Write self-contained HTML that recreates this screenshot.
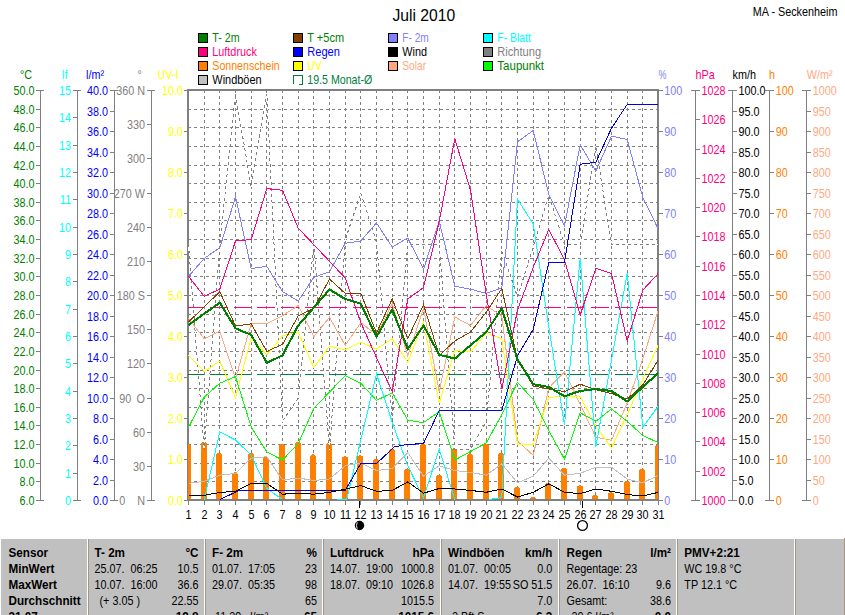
<!DOCTYPE html>
<html><head><meta charset="utf-8"><title>Juli 2010</title>
<style>
html,body{margin:0;padding:0;background:#fff;}
body{width:845px;height:615px;overflow:hidden;position:relative;font-family:"Liberation Sans",sans-serif;}
svg{position:absolute;left:0;top:0;}
text{font-family:"Liberation Sans",sans-serif;font-size:12.5px;white-space:pre;}
.ax{stroke:#808080;stroke-width:1;shape-rendering:crispEdges;fill:none;}
</style></head><body>
<svg width="845" height="615" viewBox="0 0 845 615">

<text transform="translate(392.50,20.6) scale(0.980,1)" fill="#000" style="font-size:16px">Juli 2010</text>
<text transform="translate(752.80,16.0) scale(0.865,1)" fill="#000">MA - Seckenheim</text>
<rect x="198.5" y="33.5" width="9" height="9" fill="#008000" stroke="#000" stroke-width="1" shape-rendering="crispEdges"/>
<text transform="translate(212.30,42.0) scale(0.852,1)" fill="#008000">T- 2m</text>
<rect x="293.5" y="33.5" width="9" height="9" fill="#804000" stroke="#000" stroke-width="1" shape-rendering="crispEdges"/>
<text transform="translate(307.30,42.0) scale(0.880,1)" fill="#008000">T +5cm</text>
<rect x="388.5" y="33.5" width="9" height="9" fill="#8080ff" stroke="#000" stroke-width="1" shape-rendering="crispEdges"/>
<text transform="translate(402.30,42.0) scale(0.809,1)" fill="#8080ff">F- 2m</text>
<rect x="483.5" y="33.5" width="9" height="9" fill="#00ffff" stroke="#000" stroke-width="1" shape-rendering="crispEdges"/>
<text transform="translate(497.30,42.0) scale(0.834,1)" fill="#00ffff">F- Blatt</text>
<rect x="198.5" y="47.5" width="9" height="9" fill="#ff0080" stroke="#000" stroke-width="1" shape-rendering="crispEdges"/>
<text transform="translate(212.30,56.0) scale(0.867,1)" fill="#ff0080">Luftdruck</text>
<rect x="293.5" y="47.5" width="9" height="9" fill="#0000ff" stroke="#000" stroke-width="1" shape-rendering="crispEdges"/>
<text transform="translate(307.30,56.0) scale(0.885,1)" fill="#0000ff">Regen</text>
<rect x="388.5" y="47.5" width="9" height="9" fill="#000000" stroke="#000" stroke-width="1" shape-rendering="crispEdges"/>
<text transform="translate(402.30,56.0) scale(0.867,1)" fill="#000000">Wind</text>
<rect x="483.5" y="47.5" width="9" height="9" fill="#808080" stroke="#000" stroke-width="1" shape-rendering="crispEdges"/>
<text transform="translate(497.30,56.0) scale(0.888,1)" fill="#808080">Richtung</text>
<rect x="198.5" y="61.5" width="9" height="9" fill="#ff8000" stroke="#000" stroke-width="1" shape-rendering="crispEdges"/>
<text transform="translate(212.30,70.0) scale(0.851,1)" fill="#ff8000">Sonnenschein</text>
<rect x="293.5" y="61.5" width="9" height="9" fill="#ffff00" stroke="#000" stroke-width="1" shape-rendering="crispEdges"/>
<text transform="translate(307.30,70.0) scale(0.823,1)" fill="#ffff00">UV</text>
<rect x="388.5" y="61.5" width="9" height="9" fill="#ffa880" stroke="#000" stroke-width="1" shape-rendering="crispEdges"/>
<text transform="translate(402.30,70.0) scale(0.819,1)" fill="#ffa880">Solar</text>
<rect x="483.5" y="61.5" width="9" height="9" fill="#00ff00" stroke="#000" stroke-width="1" shape-rendering="crispEdges"/>
<text transform="translate(497.30,70.0) scale(0.923,1)" fill="#008000">Taupunkt</text>
<rect x="198.5" y="75.5" width="9" height="9" fill="#c0c0c0" stroke="#000" stroke-width="1" shape-rendering="crispEdges"/>
<text transform="translate(212.30,84.0) scale(0.876,1)" fill="#000000">Windböen</text>
<path d="M293.5,84 V75.5 H302.5 V84.5 H299" fill="none" stroke="#008040" stroke-width="1" shape-rendering="crispEdges"/>
<text transform="translate(307.30,84.0) scale(0.851,1)" fill="#008040">19.5 Monat-Ø</text>
<g stroke="#808080" stroke-width="1" stroke-dasharray="3 3" shape-rendering="crispEdges" fill="none">
<line x1="204.5" y1="90" x2="204.5" y2="499"/>
<line x1="219.5" y1="90" x2="219.5" y2="499"/>
<line x1="235.5" y1="90" x2="235.5" y2="499"/>
<line x1="251.5" y1="90" x2="251.5" y2="499"/>
<line x1="266.5" y1="90" x2="266.5" y2="499"/>
<line x1="282.5" y1="90" x2="282.5" y2="499"/>
<line x1="298.5" y1="90" x2="298.5" y2="499"/>
<line x1="313.5" y1="90" x2="313.5" y2="499"/>
<line x1="329.5" y1="90" x2="329.5" y2="499"/>
<line x1="345.5" y1="90" x2="345.5" y2="499"/>
<line x1="360.5" y1="90" x2="360.5" y2="499"/>
<line x1="376.5" y1="90" x2="376.5" y2="499"/>
<line x1="392.5" y1="90" x2="392.5" y2="499"/>
<line x1="407.5" y1="90" x2="407.5" y2="499"/>
<line x1="423.5" y1="90" x2="423.5" y2="499"/>
<line x1="439.5" y1="90" x2="439.5" y2="499"/>
<line x1="454.5" y1="90" x2="454.5" y2="499"/>
<line x1="470.5" y1="90" x2="470.5" y2="499"/>
<line x1="486.5" y1="90" x2="486.5" y2="499"/>
<line x1="501.5" y1="90" x2="501.5" y2="499"/>
<line x1="517.5" y1="90" x2="517.5" y2="499"/>
<line x1="533.5" y1="90" x2="533.5" y2="499"/>
<line x1="548.5" y1="90" x2="548.5" y2="499"/>
<line x1="564.5" y1="90" x2="564.5" y2="499"/>
<line x1="580.5" y1="90" x2="580.5" y2="499"/>
<line x1="595.5" y1="90" x2="595.5" y2="499"/>
<line x1="611.5" y1="90" x2="611.5" y2="499"/>
<line x1="627.5" y1="90" x2="627.5" y2="499"/>
<line x1="642.5" y1="90" x2="642.5" y2="499"/>
<line x1="188" y1="109.5" x2="657" y2="109.5"/>
<line x1="188" y1="127.5" x2="657" y2="127.5"/>
<line x1="188" y1="146.5" x2="657" y2="146.5"/>
<line x1="188" y1="165.5" x2="657" y2="165.5"/>
<line x1="188" y1="183.5" x2="657" y2="183.5"/>
<line x1="188" y1="202.5" x2="657" y2="202.5"/>
<line x1="188" y1="220.5" x2="657" y2="220.5"/>
<line x1="188" y1="239.5" x2="657" y2="239.5"/>
<line x1="188" y1="258.5" x2="657" y2="258.5"/>
<line x1="188" y1="276.5" x2="657" y2="276.5"/>
<line x1="188" y1="295.5" x2="657" y2="295.5"/>
<line x1="188" y1="314.5" x2="657" y2="314.5"/>
<line x1="188" y1="332.5" x2="657" y2="332.5"/>
<line x1="188" y1="351.5" x2="657" y2="351.5"/>
<line x1="188" y1="370.5" x2="657" y2="370.5"/>
<line x1="188" y1="388.5" x2="657" y2="388.5"/>
<line x1="188" y1="407.5" x2="657" y2="407.5"/>
<line x1="188" y1="425.5" x2="657" y2="425.5"/>
<line x1="188" y1="444.5" x2="657" y2="444.5"/>
<line x1="188" y1="463.5" x2="657" y2="463.5"/>
<line x1="188" y1="481.5" x2="657" y2="481.5"/>
</g>
<g fill="#808080" shape-rendering="crispEdges">
<rect x="187" y="89" width="472" height="2"/>
<rect x="187" y="499" width="472" height="2"/>
<rect x="187" y="89" width="2" height="412"/>
<rect x="657" y="89" width="2" height="412"/>
</g>
<defs><clipPath id="cp"><rect x="188" y="91" width="470" height="409.5"/></clipPath></defs>
<g clip-path="url(#cp)" fill="none" stroke-linejoin="miter" shape-rendering="crispEdges">
<path d="M185,499 V447.0 A3,3 0 0 1 191,447.0 V499 Z" fill="#ff8000" stroke="none"/>
<path d="M201,499 V445.0 A3,3 0 0 1 207,445.0 V499 Z" fill="#ff8000" stroke="none"/>
<path d="M216,499 V456.0 A3,3 0 0 1 222,456.0 V499 Z" fill="#ff8000" stroke="none"/>
<path d="M232,499 V475.4 A3,3 0 0 1 238,475.4 V499 Z" fill="#ff8000" stroke="none"/>
<path d="M248,499 V456.0 A3,3 0 0 1 254,456.0 V499 Z" fill="#ff8000" stroke="none"/>
<path d="M263,499 V460.0 A3,3 0 0 1 269,460.0 V499 Z" fill="#ff8000" stroke="none"/>
<path d="M279,499 V447.0 A3,3 0 0 1 285,447.0 V499 Z" fill="#ff8000" stroke="none"/>
<path d="M295,499 V445.0 A3,3 0 0 1 301,445.0 V499 Z" fill="#ff8000" stroke="none"/>
<path d="M310,499 V457.4 A3,3 0 0 1 316,457.4 V499 Z" fill="#ff8000" stroke="none"/>
<path d="M326,499 V445.7 A3,3 0 0 1 332,445.7 V499 Z" fill="#ff8000" stroke="none"/>
<path d="M342,499 V459.3 A3,3 0 0 1 348,459.3 V499 Z" fill="#ff8000" stroke="none"/>
<path d="M357,499 V458.3 A3,3 0 0 1 363,458.3 V499 Z" fill="#ff8000" stroke="none"/>
<path d="M373,499 V462.1 A3,3 0 0 1 379,462.1 V499 Z" fill="#ff8000" stroke="none"/>
<path d="M389,499 V452.1 A3,3 0 0 1 395,452.1 V499 Z" fill="#ff8000" stroke="none"/>
<path d="M404,499 V471.6 A3,3 0 0 1 410,471.6 V499 Z" fill="#ff8000" stroke="none"/>
<path d="M420,499 V446.6 A3,3 0 0 1 426,446.6 V499 Z" fill="#ff8000" stroke="none"/>
<path d="M436,499 V477.7 A3,3 0 0 1 442,477.7 V499 Z" fill="#ff8000" stroke="none"/>
<path d="M451,499 V451.3 A3,3 0 0 1 457,451.3 V499 Z" fill="#ff8000" stroke="none"/>
<path d="M467,499 V456.4 A3,3 0 0 1 473,456.4 V499 Z" fill="#ff8000" stroke="none"/>
<path d="M483,499 V446.6 A3,3 0 0 1 489,446.6 V499 Z" fill="#ff8000" stroke="none"/>
<path d="M498,499 V455.5 A3,3 0 0 1 504,455.5 V499 Z" fill="#ff8000" stroke="none"/>
<path d="M514,499 V490.0 A3,3 0 0 1 520,490.0 V499 Z" fill="#ff8000" stroke="none"/>
<path d="M530,499 V500.0 A3,3 0 0 1 536,500.0 V499 Z" fill="#ff8000" stroke="none"/>
<path d="M545,499 V485.8 A3,3 0 0 1 551,485.8 V499 Z" fill="#ff8000" stroke="none"/>
<path d="M561,499 V470.7 A3,3 0 0 1 567,470.7 V499 Z" fill="#ff8000" stroke="none"/>
<path d="M577,499 V488.3 A3,3 0 0 1 583,488.3 V499 Z" fill="#ff8000" stroke="none"/>
<path d="M592,499 V498.1 A3,3 0 0 1 598,498.1 V499 Z" fill="#ff8000" stroke="none"/>
<path d="M608,499 V495.3 A3,3 0 0 1 614,495.3 V499 Z" fill="#ff8000" stroke="none"/>
<path d="M624,499 V483.9 A3,3 0 0 1 630,483.9 V499 Z" fill="#ff8000" stroke="none"/>
<path d="M639,499 V471.6 A3,3 0 0 1 645,471.6 V499 Z" fill="#ff8000" stroke="none"/>
<path d="M655,499 V448.0 A3,3 0 0 1 661,448.0 V499 Z" fill="#ff8000" stroke="none"/>
<polyline points="188.5,244.5 204.2,450.0 219.8,244.5 235.5,94.0 251.2,187.0 266.8,94.0 282.5,421.0 298.2,398.0 313.8,244.5 329.5,450.0 345.2,240.0 360.8,193.0 376.5,242.0 392.2,420.0 407.8,244.5 423.5,244.5 439.2,244.5 454.8,449.0 470.5,449.0 486.2,422.0 501.8,250.0 517.5,297.0 533.2,247.0 548.8,195.0 564.5,244.5 580.2,244.5 595.8,146.0 611.5,244.5 627.2,244.5 642.8,244.5 658.5,244.5" stroke="#ffffff" stroke-width="1"/>
<polyline points="188.5,244.5 204.2,450.0 219.8,244.5 235.5,94.0 251.2,187.0 266.8,94.0 282.5,421.0 298.2,398.0 313.8,244.5 329.5,450.0 345.2,240.0 360.8,193.0 376.5,242.0 392.2,420.0 407.8,244.5 423.5,244.5 439.2,244.5 454.8,449.0 470.5,449.0 486.2,422.0 501.8,250.0 517.5,297.0 533.2,247.0 548.8,195.0 564.5,244.5 580.2,244.5 595.8,146.0 611.5,244.5 627.2,244.5 642.8,244.5 658.5,244.5" stroke="#808080" stroke-width="1" stroke-dasharray="3 3"/>
<line x1="188" y1="307.5" x2="659" y2="307.5" stroke="#ff0080" stroke-width="1" stroke-dasharray="17.9 5.95" stroke-dashoffset="2.2" shape-rendering="crispEdges"/>
<line x1="188" y1="374.5" x2="659" y2="374.5" stroke="#008040" stroke-width="1" stroke-dasharray="17.9 5.95" stroke-dashoffset="2.2" shape-rendering="crispEdges"/>
<polyline points="188.5,483.4 204.2,481.3 219.8,475.2 235.5,473.3 251.2,458.2 266.8,456.7 282.5,480.0 298.2,478.0 313.8,480.5 329.5,479.0 345.2,465.8 360.8,462.9 376.5,470.5 392.2,468.6 407.8,452.5 423.5,476.2 439.2,465.8 454.8,470.5 470.5,472.4 486.2,475.2 501.8,463.9 517.5,482.8 533.2,476.2 548.8,458.2 564.5,475.2 580.2,473.3 595.8,467.3 611.5,467.3 627.2,479.0 642.8,482.8 658.5,475.2" stroke="#c0c0c0" stroke-width="1"/>
<polyline points="188.5,318.4 204.2,338.7 219.8,331.1 235.5,378.5 251.2,323.6 266.8,323.6 282.5,315.6 298.2,305.6 313.8,336.8 329.5,317.3 345.2,345.3 360.8,322.6 376.5,335.0 392.2,303.7 407.8,355.8 423.5,308.4 439.2,391.7 454.8,317.0 470.5,325.5 486.2,305.6 501.8,316.0 517.5,441.0 533.2,455.3 548.8,388.0 564.5,371.9 580.2,404.2 595.8,437.3 611.5,440.2 627.2,403.0 642.8,359.0 658.5,309.4" stroke="#ffa880" stroke-width="1"/>
<polyline points="188.5,355.4 204.2,371.5 219.8,361.0 235.5,397.6 251.2,337.8 266.8,354.8 282.5,335.9 298.2,332.0 313.8,367.5 329.5,346.3 345.2,349.7 360.8,342.1 376.5,349.1 392.2,338.7 407.8,362.4 423.5,322.0 439.2,403.3 454.8,350.5 470.5,352.0 486.2,333.0 501.8,338.7 517.5,444.5 533.2,444.5 548.8,397.2 564.5,396.6 580.2,396.6 595.8,426.0 611.5,447.8 627.2,414.6 642.8,379.0 658.5,344.4" stroke="#ffff00" stroke-width="1"/>
<polyline points="188.5,427.3 204.2,397.2 219.8,383.2 235.5,376.6 251.2,427.0 266.8,452.0 282.5,460.0 298.2,443.6 313.8,408.4 329.5,392.0 345.2,375.6 360.8,383.2 376.5,400.4 392.2,392.8 407.8,420.3 423.5,422.6 439.2,411.8 454.8,460.0 470.5,451.5 486.2,443.0 501.8,414.6 517.5,382.3 533.2,399.5 548.8,430.7 564.5,459.1 580.2,412.7 595.8,421.3 611.5,408.9 627.2,421.3 642.8,435.5 658.5,442.7" stroke="#00ff00" stroke-width="1"/>
<polyline points="204.2,499.5 219.8,432.0 235.5,440.0 251.2,455.3 266.8,488.5 282.5,499.5" stroke="#00ffff" stroke-width="1"/>
<polyline points="337.3,499.5 346.7,499.5 376.5,373.8 392.2,422.2 407.8,465.8 423.5,498.0 439.2,449.1 454.8,499.5" stroke="#00ffff" stroke-width="1"/>
<polyline points="489.3,499.5 501.8,497.5 517.5,199.2 533.2,223.8 548.8,327.0 564.5,425.0 580.2,257.9 595.8,446.8 611.5,360.0 627.2,273.0 642.8,427.0 658.5,406.0" stroke="#00ffff" stroke-width="1"/>
<polyline points="188.5,276.4 204.2,258.4 219.8,247.7 235.5,196.9 251.2,268.5 266.8,266.4 282.5,291.6 298.2,301.0 313.8,277.4 329.5,271.7 345.2,243.3 360.8,240.9 376.5,222.9 392.2,247.1 407.8,238.0 423.5,269.3 439.2,221.0 454.8,286.3 470.5,289.2 486.2,293.3 501.8,288.2 517.5,141.8 533.2,130.5 548.8,194.5 564.5,225.7 580.2,144.7 595.8,171.2 611.5,136.1 627.2,139.5 642.8,197.3 658.5,229.5" stroke="#8080ff" stroke-width="1"/>
<polyline points="188.5,276.4 204.2,296.3 219.8,289.1 235.5,241.0 251.2,239.5 266.8,188.6 282.5,190.3 298.2,228.1 313.8,244.6 329.5,261.3 345.2,278.0 360.8,322.6 376.5,357.7 392.2,391.7 407.8,298.9 423.5,287.6 439.2,221.5 454.8,138.7 470.5,190.0 486.2,294.0 501.8,389.0 517.5,310.0 533.2,267.4 548.8,229.5 564.5,259.8 580.2,315.0 595.8,268.3 611.5,273.6 627.2,341.0 642.8,290.2 658.5,273.1" stroke="#ff0080" stroke-width="1"/>
<polyline points="188.5,322.0 204.2,306.9 219.8,291.7 235.5,326.0 251.2,323.9 266.8,351.4 282.5,344.4 298.2,316.0 313.8,308.4 329.5,279.0 345.2,293.3 360.8,293.3 376.5,333.0 392.2,298.9 407.8,338.7 423.5,304.6 439.2,355.4 454.8,341.0 470.5,332.1 486.2,312.2 501.8,288.5 517.5,359.5 533.2,386.0 548.8,388.9 564.5,391.7 580.2,384.2 595.8,389.8 611.5,393.6 627.2,399.1 642.8,385.0 658.5,359.5" stroke="#804000" stroke-width="1"/>
<polyline points="219.8,499.5 239.4,490.4 345.2,490.4 360.8,463.5 376.5,463.5 394.5,446.8 407.8,444.4 423.5,443.6 439.2,410.5 501.8,410.5 517.5,355.8 533.2,329.6 548.8,262.3 564.5,262.3 580.2,164.2 595.8,162.3 611.5,128.2 627.2,104.5 658.5,104.5" stroke="#0000e0" stroke-width="1"/>
<polyline points="188.5,495.3 204.2,495.3 219.8,492.5 235.5,491.3 251.2,483.4 266.8,483.4 282.5,494.2 298.2,493.2 313.8,494.2 329.5,492.3 345.2,489.2 360.8,485.6 376.5,491.3 392.2,490.4 407.8,481.9 423.5,493.2 439.2,488.5 454.8,489.0 470.5,490.4 486.2,492.3 501.8,489.0 517.5,497.0 533.2,492.3 548.8,483.8 564.5,492.3 580.2,493.6 595.8,489.0 611.5,491.3 627.2,494.5 642.8,496.0 658.5,492.3" stroke="#000000" stroke-width="1"/>
<polyline points="188.5,325.1 204.2,313.7 219.8,302.7 235.5,328.3 251.2,334.9 266.8,362.8 282.5,355.4 298.2,325.5 313.8,307.5 329.5,289.5 345.2,298.9 360.8,303.7 376.5,336.8 392.2,309.4 407.8,349.1 423.5,325.5 439.2,354.8 454.8,358.6 470.5,345.3 486.2,332.1 501.8,308.4 517.5,359.5 533.2,384.2 548.8,387.0 564.5,396.3 580.2,391.0 595.8,389.0 611.5,391.0 627.2,401.4 642.8,387.0 658.5,372.8" stroke="#008000" stroke-width="2.1" stroke-linejoin="round"/>
</g>
<g class="ax">
<line x1="40.5" y1="90" x2="40.5" y2="501"/>
<line x1="36.0" y1="90.5" x2="44.0" y2="90.5"/>
<line x1="36.0" y1="109.5" x2="41.0" y2="109.5"/>
<line x1="36.0" y1="127.5" x2="41.0" y2="127.5"/>
<line x1="36.0" y1="146.5" x2="41.0" y2="146.5"/>
<line x1="36.0" y1="165.5" x2="41.0" y2="165.5"/>
<line x1="36.0" y1="183.5" x2="41.0" y2="183.5"/>
<line x1="36.0" y1="202.5" x2="41.0" y2="202.5"/>
<line x1="36.0" y1="220.5" x2="41.0" y2="220.5"/>
<line x1="36.0" y1="239.5" x2="41.0" y2="239.5"/>
<line x1="36.0" y1="258.5" x2="41.0" y2="258.5"/>
<line x1="36.0" y1="276.5" x2="41.0" y2="276.5"/>
<line x1="36.0" y1="295.5" x2="41.0" y2="295.5"/>
<line x1="36.0" y1="314.5" x2="41.0" y2="314.5"/>
<line x1="36.0" y1="332.5" x2="41.0" y2="332.5"/>
<line x1="36.0" y1="351.5" x2="41.0" y2="351.5"/>
<line x1="36.0" y1="370.5" x2="41.0" y2="370.5"/>
<line x1="36.0" y1="388.5" x2="41.0" y2="388.5"/>
<line x1="36.0" y1="407.5" x2="41.0" y2="407.5"/>
<line x1="36.0" y1="425.5" x2="41.0" y2="425.5"/>
<line x1="36.0" y1="444.5" x2="41.0" y2="444.5"/>
<line x1="36.0" y1="463.5" x2="41.0" y2="463.5"/>
<line x1="36.0" y1="481.5" x2="41.0" y2="481.5"/>
<line x1="36.0" y1="500.5" x2="44.0" y2="500.5"/>
</g>
<text transform="translate(34.40,95.0) scale(0.865,1)" fill="#008000" text-anchor="end">50.0</text>
<text transform="translate(34.40,114.0) scale(0.865,1)" fill="#008000" text-anchor="end">48.0</text>
<text transform="translate(34.40,132.0) scale(0.865,1)" fill="#008000" text-anchor="end">46.0</text>
<text transform="translate(34.40,151.0) scale(0.865,1)" fill="#008000" text-anchor="end">44.0</text>
<text transform="translate(34.40,170.0) scale(0.865,1)" fill="#008000" text-anchor="end">42.0</text>
<text transform="translate(34.40,188.0) scale(0.865,1)" fill="#008000" text-anchor="end">40.0</text>
<text transform="translate(34.40,207.0) scale(0.865,1)" fill="#008000" text-anchor="end">38.0</text>
<text transform="translate(34.40,225.0) scale(0.865,1)" fill="#008000" text-anchor="end">36.0</text>
<text transform="translate(34.40,244.0) scale(0.865,1)" fill="#008000" text-anchor="end">34.0</text>
<text transform="translate(34.40,263.0) scale(0.865,1)" fill="#008000" text-anchor="end">32.0</text>
<text transform="translate(34.40,281.0) scale(0.865,1)" fill="#008000" text-anchor="end">30.0</text>
<text transform="translate(34.40,300.0) scale(0.865,1)" fill="#008000" text-anchor="end">28.0</text>
<text transform="translate(34.40,319.0) scale(0.865,1)" fill="#008000" text-anchor="end">26.0</text>
<text transform="translate(34.40,337.0) scale(0.865,1)" fill="#008000" text-anchor="end">24.0</text>
<text transform="translate(34.40,356.0) scale(0.865,1)" fill="#008000" text-anchor="end">22.0</text>
<text transform="translate(34.40,375.0) scale(0.865,1)" fill="#008000" text-anchor="end">20.0</text>
<text transform="translate(34.40,393.0) scale(0.865,1)" fill="#008000" text-anchor="end">18.0</text>
<text transform="translate(34.40,412.0) scale(0.865,1)" fill="#008000" text-anchor="end">16.0</text>
<text transform="translate(34.40,430.0) scale(0.865,1)" fill="#008000" text-anchor="end">14.0</text>
<text transform="translate(34.40,449.0) scale(0.865,1)" fill="#008000" text-anchor="end">12.0</text>
<text transform="translate(34.40,468.0) scale(0.865,1)" fill="#008000" text-anchor="end">10.0</text>
<text transform="translate(34.40,486.0) scale(0.865,1)" fill="#008000" text-anchor="end">8.0</text>
<text transform="translate(34.40,505.0) scale(0.865,1)" fill="#008000" text-anchor="end">6.0</text>
<g class="ax">
<line x1="77.5" y1="90" x2="77.5" y2="501"/>
<line x1="73.0" y1="90.5" x2="81.0" y2="90.5"/>
<line x1="73.0" y1="117.5" x2="78.0" y2="117.5"/>
<line x1="73.0" y1="145.5" x2="78.0" y2="145.5"/>
<line x1="73.0" y1="172.5" x2="78.0" y2="172.5"/>
<line x1="73.0" y1="199.5" x2="78.0" y2="199.5"/>
<line x1="73.0" y1="227.5" x2="78.0" y2="227.5"/>
<line x1="73.0" y1="254.5" x2="78.0" y2="254.5"/>
<line x1="73.0" y1="281.5" x2="78.0" y2="281.5"/>
<line x1="73.0" y1="309.5" x2="78.0" y2="309.5"/>
<line x1="73.0" y1="336.5" x2="78.0" y2="336.5"/>
<line x1="73.0" y1="363.5" x2="78.0" y2="363.5"/>
<line x1="73.0" y1="391.5" x2="78.0" y2="391.5"/>
<line x1="73.0" y1="418.5" x2="78.0" y2="418.5"/>
<line x1="73.0" y1="445.5" x2="78.0" y2="445.5"/>
<line x1="73.0" y1="473.5" x2="78.0" y2="473.5"/>
<line x1="73.0" y1="500.5" x2="81.0" y2="500.5"/>
</g>
<text transform="translate(71.00,95.0) scale(0.865,1)" fill="#00ffff" text-anchor="end">15</text>
<text transform="translate(71.00,122.0) scale(0.865,1)" fill="#00ffff" text-anchor="end">14</text>
<text transform="translate(71.00,150.0) scale(0.865,1)" fill="#00ffff" text-anchor="end">13</text>
<text transform="translate(71.00,177.0) scale(0.865,1)" fill="#00ffff" text-anchor="end">12</text>
<text transform="translate(71.00,204.0) scale(0.865,1)" fill="#00ffff" text-anchor="end">11</text>
<text transform="translate(71.00,232.0) scale(0.865,1)" fill="#00ffff" text-anchor="end">10</text>
<text transform="translate(71.00,259.0) scale(0.865,1)" fill="#00ffff" text-anchor="end">9</text>
<text transform="translate(71.00,286.0) scale(0.865,1)" fill="#00ffff" text-anchor="end">8</text>
<text transform="translate(71.00,314.0) scale(0.865,1)" fill="#00ffff" text-anchor="end">7</text>
<text transform="translate(71.00,341.0) scale(0.865,1)" fill="#00ffff" text-anchor="end">6</text>
<text transform="translate(71.00,368.0) scale(0.865,1)" fill="#00ffff" text-anchor="end">5</text>
<text transform="translate(71.00,396.0) scale(0.865,1)" fill="#00ffff" text-anchor="end">4</text>
<text transform="translate(71.00,423.0) scale(0.865,1)" fill="#00ffff" text-anchor="end">3</text>
<text transform="translate(71.00,450.0) scale(0.865,1)" fill="#00ffff" text-anchor="end">2</text>
<text transform="translate(71.00,478.0) scale(0.865,1)" fill="#00ffff" text-anchor="end">1</text>
<text transform="translate(71.00,505.0) scale(0.865,1)" fill="#00ffff" text-anchor="end">0</text>
<g class="ax">
<line x1="114.5" y1="90" x2="114.5" y2="501"/>
<line x1="110.0" y1="90.5" x2="118.0" y2="90.5"/>
<line x1="110.0" y1="111.5" x2="115.0" y2="111.5"/>
<line x1="110.0" y1="131.5" x2="115.0" y2="131.5"/>
<line x1="110.0" y1="152.5" x2="115.0" y2="152.5"/>
<line x1="110.0" y1="172.5" x2="115.0" y2="172.5"/>
<line x1="110.0" y1="193.5" x2="115.0" y2="193.5"/>
<line x1="110.0" y1="213.5" x2="115.0" y2="213.5"/>
<line x1="110.0" y1="234.5" x2="115.0" y2="234.5"/>
<line x1="110.0" y1="254.5" x2="115.0" y2="254.5"/>
<line x1="110.0" y1="275.5" x2="115.0" y2="275.5"/>
<line x1="110.0" y1="295.5" x2="115.0" y2="295.5"/>
<line x1="110.0" y1="316.5" x2="115.0" y2="316.5"/>
<line x1="110.0" y1="336.5" x2="115.0" y2="336.5"/>
<line x1="110.0" y1="357.5" x2="115.0" y2="357.5"/>
<line x1="110.0" y1="377.5" x2="115.0" y2="377.5"/>
<line x1="110.0" y1="398.5" x2="115.0" y2="398.5"/>
<line x1="110.0" y1="418.5" x2="115.0" y2="418.5"/>
<line x1="110.0" y1="439.5" x2="115.0" y2="439.5"/>
<line x1="110.0" y1="459.5" x2="115.0" y2="459.5"/>
<line x1="110.0" y1="480.5" x2="115.0" y2="480.5"/>
<line x1="110.0" y1="500.5" x2="118.0" y2="500.5"/>
</g>
<text transform="translate(108.00,95.0) scale(0.865,1)" fill="#0000ff" text-anchor="end">40.0</text>
<text transform="translate(108.00,116.0) scale(0.865,1)" fill="#0000ff" text-anchor="end">38.0</text>
<text transform="translate(108.00,136.0) scale(0.865,1)" fill="#0000ff" text-anchor="end">36.0</text>
<text transform="translate(108.00,157.0) scale(0.865,1)" fill="#0000ff" text-anchor="end">34.0</text>
<text transform="translate(108.00,177.0) scale(0.865,1)" fill="#0000ff" text-anchor="end">32.0</text>
<text transform="translate(108.00,198.0) scale(0.865,1)" fill="#0000ff" text-anchor="end">30.0</text>
<text transform="translate(108.00,218.0) scale(0.865,1)" fill="#0000ff" text-anchor="end">28.0</text>
<text transform="translate(108.00,239.0) scale(0.865,1)" fill="#0000ff" text-anchor="end">26.0</text>
<text transform="translate(108.00,259.0) scale(0.865,1)" fill="#0000ff" text-anchor="end">24.0</text>
<text transform="translate(108.00,280.0) scale(0.865,1)" fill="#0000ff" text-anchor="end">22.0</text>
<text transform="translate(108.00,300.0) scale(0.865,1)" fill="#0000ff" text-anchor="end">20.0</text>
<text transform="translate(108.00,321.0) scale(0.865,1)" fill="#0000ff" text-anchor="end">18.0</text>
<text transform="translate(108.00,341.0) scale(0.865,1)" fill="#0000ff" text-anchor="end">16.0</text>
<text transform="translate(108.00,362.0) scale(0.865,1)" fill="#0000ff" text-anchor="end">14.0</text>
<text transform="translate(108.00,382.0) scale(0.865,1)" fill="#0000ff" text-anchor="end">12.0</text>
<text transform="translate(108.00,403.0) scale(0.865,1)" fill="#0000ff" text-anchor="end">10.0</text>
<text transform="translate(108.00,423.0) scale(0.865,1)" fill="#0000ff" text-anchor="end">8.0</text>
<text transform="translate(108.00,444.0) scale(0.865,1)" fill="#0000ff" text-anchor="end">6.0</text>
<text transform="translate(108.00,464.0) scale(0.865,1)" fill="#0000ff" text-anchor="end">4.0</text>
<text transform="translate(108.00,485.0) scale(0.865,1)" fill="#0000ff" text-anchor="end">2.0</text>
<text transform="translate(108.00,505.0) scale(0.865,1)" fill="#0000ff" text-anchor="end">0.0</text>
<text transform="translate(119.30,403.0) scale(0.865,1)" fill="#808080">90</text>
<text transform="translate(119.30,505.0) scale(0.865,1)" fill="#808080">0</text>
<g class="ax">
<line x1="151.5" y1="90" x2="151.5" y2="501"/>
<line x1="147.0" y1="90.5" x2="155.0" y2="90.5"/>
<line x1="147.0" y1="124.5" x2="152.0" y2="124.5"/>
<line x1="147.0" y1="158.5" x2="152.0" y2="158.5"/>
<line x1="147.0" y1="193.5" x2="152.0" y2="193.5"/>
<line x1="147.0" y1="227.5" x2="152.0" y2="227.5"/>
<line x1="147.0" y1="261.5" x2="152.0" y2="261.5"/>
<line x1="147.0" y1="295.5" x2="152.0" y2="295.5"/>
<line x1="147.0" y1="329.5" x2="152.0" y2="329.5"/>
<line x1="147.0" y1="363.5" x2="152.0" y2="363.5"/>
<line x1="147.0" y1="398.5" x2="152.0" y2="398.5"/>
<line x1="147.0" y1="432.5" x2="152.0" y2="432.5"/>
<line x1="147.0" y1="466.5" x2="152.0" y2="466.5"/>
<line x1="147.0" y1="500.5" x2="155.0" y2="500.5"/>
</g>
<text transform="translate(145.00,95.0) scale(0.865,1)" fill="#808080" text-anchor="end">360 N</text>
<text transform="translate(145.00,129.0) scale(0.865,1)" fill="#808080" text-anchor="end">330</text>
<text transform="translate(145.00,163.0) scale(0.865,1)" fill="#808080" text-anchor="end">300</text>
<text transform="translate(145.00,198.0) scale(0.865,1)" fill="#808080" text-anchor="end">270 W</text>
<text transform="translate(145.00,232.0) scale(0.865,1)" fill="#808080" text-anchor="end">240</text>
<text transform="translate(145.00,266.0) scale(0.865,1)" fill="#808080" text-anchor="end">210</text>
<text transform="translate(145.00,300.0) scale(0.865,1)" fill="#808080" text-anchor="end">180 S</text>
<text transform="translate(145.00,334.0) scale(0.865,1)" fill="#808080" text-anchor="end">150</text>
<text transform="translate(145.00,368.0) scale(0.865,1)" fill="#808080" text-anchor="end">120</text>
<text transform="translate(145.00,403.0) scale(0.865,1)" fill="#808080" text-anchor="end">O</text>
<text transform="translate(145.00,437.0) scale(0.865,1)" fill="#808080" text-anchor="end">60</text>
<text transform="translate(145.00,471.0) scale(0.865,1)" fill="#808080" text-anchor="end">30</text>
<text transform="translate(145.00,505.0) scale(0.865,1)" fill="#808080" text-anchor="end">N</text>
<g class="ax">
<line x1="184" y1="90.5" x2="187" y2="90.5"/>
<line x1="659" y1="90.5" x2="663" y2="90.5"/>
<line x1="184" y1="131.5" x2="187" y2="131.5"/>
<line x1="659" y1="131.5" x2="663" y2="131.5"/>
<line x1="184" y1="172.5" x2="187" y2="172.5"/>
<line x1="659" y1="172.5" x2="663" y2="172.5"/>
<line x1="184" y1="213.5" x2="187" y2="213.5"/>
<line x1="659" y1="213.5" x2="663" y2="213.5"/>
<line x1="184" y1="254.5" x2="187" y2="254.5"/>
<line x1="659" y1="254.5" x2="663" y2="254.5"/>
<line x1="184" y1="295.5" x2="187" y2="295.5"/>
<line x1="659" y1="295.5" x2="663" y2="295.5"/>
<line x1="184" y1="336.5" x2="187" y2="336.5"/>
<line x1="659" y1="336.5" x2="663" y2="336.5"/>
<line x1="184" y1="377.5" x2="187" y2="377.5"/>
<line x1="659" y1="377.5" x2="663" y2="377.5"/>
<line x1="184" y1="418.5" x2="187" y2="418.5"/>
<line x1="659" y1="418.5" x2="663" y2="418.5"/>
<line x1="184" y1="459.5" x2="187" y2="459.5"/>
<line x1="659" y1="459.5" x2="663" y2="459.5"/>
<line x1="184" y1="500.5" x2="187" y2="500.5"/>
<line x1="659" y1="500.5" x2="663" y2="500.5"/>
</g>
<text transform="translate(183.00,95.0) scale(0.865,1)" fill="#ffff00" text-anchor="end">10.0</text>
<text transform="translate(664.30,95.0) scale(0.865,1)" fill="#8080ff">100</text>
<text transform="translate(183.00,136.0) scale(0.865,1)" fill="#ffff00" text-anchor="end">9.0</text>
<text transform="translate(664.30,136.0) scale(0.865,1)" fill="#8080ff">90</text>
<text transform="translate(183.00,177.0) scale(0.865,1)" fill="#ffff00" text-anchor="end">8.0</text>
<text transform="translate(664.30,177.0) scale(0.865,1)" fill="#8080ff">80</text>
<text transform="translate(183.00,218.0) scale(0.865,1)" fill="#ffff00" text-anchor="end">7.0</text>
<text transform="translate(664.30,218.0) scale(0.865,1)" fill="#8080ff">70</text>
<text transform="translate(183.00,259.0) scale(0.865,1)" fill="#ffff00" text-anchor="end">6.0</text>
<text transform="translate(664.30,259.0) scale(0.865,1)" fill="#8080ff">60</text>
<text transform="translate(183.00,300.0) scale(0.865,1)" fill="#ffff00" text-anchor="end">5.0</text>
<text transform="translate(664.30,300.0) scale(0.865,1)" fill="#8080ff">50</text>
<text transform="translate(183.00,341.0) scale(0.865,1)" fill="#ffff00" text-anchor="end">4.0</text>
<text transform="translate(664.30,341.0) scale(0.865,1)" fill="#8080ff">40</text>
<text transform="translate(183.00,382.0) scale(0.865,1)" fill="#ffff00" text-anchor="end">3.0</text>
<text transform="translate(664.30,382.0) scale(0.865,1)" fill="#8080ff">30</text>
<text transform="translate(183.00,423.0) scale(0.865,1)" fill="#ffff00" text-anchor="end">2.0</text>
<text transform="translate(664.30,423.0) scale(0.865,1)" fill="#8080ff">20</text>
<text transform="translate(183.00,464.0) scale(0.865,1)" fill="#ffff00" text-anchor="end">1.0</text>
<text transform="translate(664.30,464.0) scale(0.865,1)" fill="#8080ff">10</text>
<text transform="translate(183.00,505.0) scale(0.865,1)" fill="#ffff00" text-anchor="end">0.0</text>
<text transform="translate(664.30,505.0) scale(0.865,1)" fill="#8080ff">0</text>
<g class="ax">
<line x1="695.5" y1="90" x2="695.5" y2="501"/>
<line x1="691.0" y1="90.5" x2="700.0" y2="90.5"/>
<line x1="695.0" y1="119.5" x2="700.0" y2="119.5"/>
<line x1="695.0" y1="149.5" x2="700.0" y2="149.5"/>
<line x1="695.0" y1="178.5" x2="700.0" y2="178.5"/>
<line x1="695.0" y1="207.5" x2="700.0" y2="207.5"/>
<line x1="695.0" y1="236.5" x2="700.0" y2="236.5"/>
<line x1="695.0" y1="266.5" x2="700.0" y2="266.5"/>
<line x1="695.0" y1="295.5" x2="700.0" y2="295.5"/>
<line x1="695.0" y1="324.5" x2="700.0" y2="324.5"/>
<line x1="695.0" y1="354.5" x2="700.0" y2="354.5"/>
<line x1="695.0" y1="383.5" x2="700.0" y2="383.5"/>
<line x1="695.0" y1="412.5" x2="700.0" y2="412.5"/>
<line x1="695.0" y1="441.5" x2="700.0" y2="441.5"/>
<line x1="695.0" y1="471.5" x2="700.0" y2="471.5"/>
<line x1="691.0" y1="500.5" x2="700.0" y2="500.5"/>
</g>
<text transform="translate(701.60,95.0) scale(0.865,1)" fill="#ff0080">1028</text>
<text transform="translate(701.60,124.0) scale(0.865,1)" fill="#ff0080">1026</text>
<text transform="translate(701.60,154.0) scale(0.865,1)" fill="#ff0080">1024</text>
<text transform="translate(701.60,183.0) scale(0.865,1)" fill="#ff0080">1022</text>
<text transform="translate(701.60,212.0) scale(0.865,1)" fill="#ff0080">1020</text>
<text transform="translate(701.60,241.0) scale(0.865,1)" fill="#ff0080">1018</text>
<text transform="translate(701.60,271.0) scale(0.865,1)" fill="#ff0080">1016</text>
<text transform="translate(701.60,300.0) scale(0.865,1)" fill="#ff0080">1014</text>
<text transform="translate(701.60,329.0) scale(0.865,1)" fill="#ff0080">1012</text>
<text transform="translate(701.60,359.0) scale(0.865,1)" fill="#ff0080">1010</text>
<text transform="translate(701.60,388.0) scale(0.865,1)" fill="#ff0080">1008</text>
<text transform="translate(701.60,417.0) scale(0.865,1)" fill="#ff0080">1006</text>
<text transform="translate(701.60,446.0) scale(0.865,1)" fill="#ff0080">1004</text>
<text transform="translate(701.60,476.0) scale(0.865,1)" fill="#ff0080">1002</text>
<text transform="translate(701.60,505.0) scale(0.865,1)" fill="#ff0080">1000</text>
<g class="ax">
<line x1="732.5" y1="90" x2="732.5" y2="501"/>
<line x1="728.0" y1="90.5" x2="737.0" y2="90.5"/>
<line x1="732.0" y1="111.5" x2="737.0" y2="111.5"/>
<line x1="732.0" y1="131.5" x2="737.0" y2="131.5"/>
<line x1="732.0" y1="152.5" x2="737.0" y2="152.5"/>
<line x1="732.0" y1="172.5" x2="737.0" y2="172.5"/>
<line x1="732.0" y1="193.5" x2="737.0" y2="193.5"/>
<line x1="732.0" y1="213.5" x2="737.0" y2="213.5"/>
<line x1="732.0" y1="234.5" x2="737.0" y2="234.5"/>
<line x1="732.0" y1="254.5" x2="737.0" y2="254.5"/>
<line x1="732.0" y1="275.5" x2="737.0" y2="275.5"/>
<line x1="732.0" y1="295.5" x2="737.0" y2="295.5"/>
<line x1="732.0" y1="316.5" x2="737.0" y2="316.5"/>
<line x1="732.0" y1="336.5" x2="737.0" y2="336.5"/>
<line x1="732.0" y1="357.5" x2="737.0" y2="357.5"/>
<line x1="732.0" y1="377.5" x2="737.0" y2="377.5"/>
<line x1="732.0" y1="398.5" x2="737.0" y2="398.5"/>
<line x1="732.0" y1="418.5" x2="737.0" y2="418.5"/>
<line x1="732.0" y1="439.5" x2="737.0" y2="439.5"/>
<line x1="732.0" y1="459.5" x2="737.0" y2="459.5"/>
<line x1="732.0" y1="480.5" x2="737.0" y2="480.5"/>
<line x1="728.0" y1="500.5" x2="737.0" y2="500.5"/>
</g>
<text transform="translate(738.40,95.0) scale(0.865,1)" fill="#000000">100.0</text>
<text transform="translate(738.40,116.0) scale(0.865,1)" fill="#000000">95.0</text>
<text transform="translate(738.40,136.0) scale(0.865,1)" fill="#000000">90.0</text>
<text transform="translate(738.40,157.0) scale(0.865,1)" fill="#000000">85.0</text>
<text transform="translate(738.40,177.0) scale(0.865,1)" fill="#000000">80.0</text>
<text transform="translate(738.40,198.0) scale(0.865,1)" fill="#000000">75.0</text>
<text transform="translate(738.40,218.0) scale(0.865,1)" fill="#000000">70.0</text>
<text transform="translate(738.40,239.0) scale(0.865,1)" fill="#000000">65.0</text>
<text transform="translate(738.40,259.0) scale(0.865,1)" fill="#000000">60.0</text>
<text transform="translate(738.40,280.0) scale(0.865,1)" fill="#000000">55.0</text>
<text transform="translate(738.40,300.0) scale(0.865,1)" fill="#000000">50.0</text>
<text transform="translate(738.40,321.0) scale(0.865,1)" fill="#000000">45.0</text>
<text transform="translate(738.40,341.0) scale(0.865,1)" fill="#000000">40.0</text>
<text transform="translate(738.40,362.0) scale(0.865,1)" fill="#000000">35.0</text>
<text transform="translate(738.40,382.0) scale(0.865,1)" fill="#000000">30.0</text>
<text transform="translate(738.40,403.0) scale(0.865,1)" fill="#000000">25.0</text>
<text transform="translate(738.40,423.0) scale(0.865,1)" fill="#000000">20.0</text>
<text transform="translate(738.40,444.0) scale(0.865,1)" fill="#000000">15.0</text>
<text transform="translate(738.40,464.0) scale(0.865,1)" fill="#000000">10.0</text>
<text transform="translate(738.40,485.0) scale(0.865,1)" fill="#000000">5.0</text>
<text transform="translate(738.40,505.0) scale(0.865,1)" fill="#000000">0.0</text>
<g class="ax">
<line x1="769.5" y1="90" x2="769.5" y2="501"/>
<line x1="765.0" y1="90.5" x2="774.0" y2="90.5"/>
<line x1="769.0" y1="131.5" x2="774.0" y2="131.5"/>
<line x1="769.0" y1="172.5" x2="774.0" y2="172.5"/>
<line x1="769.0" y1="213.5" x2="774.0" y2="213.5"/>
<line x1="769.0" y1="254.5" x2="774.0" y2="254.5"/>
<line x1="769.0" y1="295.5" x2="774.0" y2="295.5"/>
<line x1="769.0" y1="336.5" x2="774.0" y2="336.5"/>
<line x1="769.0" y1="377.5" x2="774.0" y2="377.5"/>
<line x1="769.0" y1="418.5" x2="774.0" y2="418.5"/>
<line x1="769.0" y1="459.5" x2="774.0" y2="459.5"/>
<line x1="765.0" y1="500.5" x2="774.0" y2="500.5"/>
</g>
<text transform="translate(775.80,95.0) scale(0.865,1)" fill="#ff8000">100</text>
<text transform="translate(775.80,136.0) scale(0.865,1)" fill="#ff8000">90</text>
<text transform="translate(775.80,177.0) scale(0.865,1)" fill="#ff8000">80</text>
<text transform="translate(775.80,218.0) scale(0.865,1)" fill="#ff8000">70</text>
<text transform="translate(775.80,259.0) scale(0.865,1)" fill="#ff8000">60</text>
<text transform="translate(775.80,300.0) scale(0.865,1)" fill="#ff8000">50</text>
<text transform="translate(775.80,341.0) scale(0.865,1)" fill="#ff8000">40</text>
<text transform="translate(775.80,382.0) scale(0.865,1)" fill="#ff8000">30</text>
<text transform="translate(775.80,423.0) scale(0.865,1)" fill="#ff8000">20</text>
<text transform="translate(775.80,464.0) scale(0.865,1)" fill="#ff8000">10</text>
<text transform="translate(775.80,505.0) scale(0.865,1)" fill="#ff8000">0</text>
<g class="ax">
<line x1="806.5" y1="90" x2="806.5" y2="501"/>
<line x1="802.0" y1="90.5" x2="811.0" y2="90.5"/>
<line x1="806.0" y1="111.5" x2="811.0" y2="111.5"/>
<line x1="806.0" y1="131.5" x2="811.0" y2="131.5"/>
<line x1="806.0" y1="152.5" x2="811.0" y2="152.5"/>
<line x1="806.0" y1="172.5" x2="811.0" y2="172.5"/>
<line x1="806.0" y1="193.5" x2="811.0" y2="193.5"/>
<line x1="806.0" y1="213.5" x2="811.0" y2="213.5"/>
<line x1="806.0" y1="234.5" x2="811.0" y2="234.5"/>
<line x1="806.0" y1="254.5" x2="811.0" y2="254.5"/>
<line x1="806.0" y1="275.5" x2="811.0" y2="275.5"/>
<line x1="806.0" y1="295.5" x2="811.0" y2="295.5"/>
<line x1="806.0" y1="316.5" x2="811.0" y2="316.5"/>
<line x1="806.0" y1="336.5" x2="811.0" y2="336.5"/>
<line x1="806.0" y1="357.5" x2="811.0" y2="357.5"/>
<line x1="806.0" y1="377.5" x2="811.0" y2="377.5"/>
<line x1="806.0" y1="398.5" x2="811.0" y2="398.5"/>
<line x1="806.0" y1="418.5" x2="811.0" y2="418.5"/>
<line x1="806.0" y1="439.5" x2="811.0" y2="439.5"/>
<line x1="806.0" y1="459.5" x2="811.0" y2="459.5"/>
<line x1="806.0" y1="480.5" x2="811.0" y2="480.5"/>
<line x1="802.0" y1="500.5" x2="811.0" y2="500.5"/>
</g>
<text transform="translate(812.80,95.0) scale(0.865,1)" fill="#ffa880">1000</text>
<text transform="translate(812.80,116.0) scale(0.865,1)" fill="#ffa880">950</text>
<text transform="translate(812.80,136.0) scale(0.865,1)" fill="#ffa880">900</text>
<text transform="translate(812.80,157.0) scale(0.865,1)" fill="#ffa880">850</text>
<text transform="translate(812.80,177.0) scale(0.865,1)" fill="#ffa880">800</text>
<text transform="translate(812.80,198.0) scale(0.865,1)" fill="#ffa880">750</text>
<text transform="translate(812.80,218.0) scale(0.865,1)" fill="#ffa880">700</text>
<text transform="translate(812.80,239.0) scale(0.865,1)" fill="#ffa880">650</text>
<text transform="translate(812.80,259.0) scale(0.865,1)" fill="#ffa880">600</text>
<text transform="translate(812.80,280.0) scale(0.865,1)" fill="#ffa880">550</text>
<text transform="translate(812.80,300.0) scale(0.865,1)" fill="#ffa880">500</text>
<text transform="translate(812.80,321.0) scale(0.865,1)" fill="#ffa880">450</text>
<text transform="translate(812.80,341.0) scale(0.865,1)" fill="#ffa880">400</text>
<text transform="translate(812.80,362.0) scale(0.865,1)" fill="#ffa880">350</text>
<text transform="translate(812.80,382.0) scale(0.865,1)" fill="#ffa880">300</text>
<text transform="translate(812.80,403.0) scale(0.865,1)" fill="#ffa880">250</text>
<text transform="translate(812.80,423.0) scale(0.865,1)" fill="#ffa880">200</text>
<text transform="translate(812.80,444.0) scale(0.865,1)" fill="#ffa880">150</text>
<text transform="translate(812.80,464.0) scale(0.865,1)" fill="#ffa880">100</text>
<text transform="translate(812.80,485.0) scale(0.865,1)" fill="#ffa880">50</text>
<text transform="translate(812.80,505.0) scale(0.865,1)" fill="#ffa880">0</text>
<text transform="translate(20.00,79.0) scale(0.865,1)" fill="#008000">°C</text>
<text transform="translate(62.00,79.0) scale(0.865,1)" fill="#00ffff">lf</text>
<text transform="translate(86.00,79.0) scale(0.865,1)" fill="#0000ff">l/m²</text>
<text transform="translate(137.50,79.0) scale(0.865,1)" fill="#808080">°</text>
<text transform="translate(157.50,79.0) scale(0.865,1)" fill="#ffff00">UV-I</text>
<text transform="translate(658.50,79.0) scale(0.720,1)" fill="#8080ff">%</text>
<text transform="translate(695.50,79.0) scale(0.865,1)" fill="#ff0080">hPa</text>
<text transform="translate(732.50,79.0) scale(0.865,1)" fill="#000">km/h</text>
<text transform="translate(769.00,79.0) scale(0.865,1)" fill="#ff8000">h</text>
<text transform="translate(806.70,79.0) scale(0.865,1)" fill="#ffa880">W/m²</text>
<g class="ax">
<line x1="188.5" y1="501" x2="188.5" y2="505"/>
<line x1="204.5" y1="501" x2="204.5" y2="505"/>
<line x1="219.5" y1="501" x2="219.5" y2="505"/>
<line x1="235.5" y1="501" x2="235.5" y2="505"/>
<line x1="251.5" y1="501" x2="251.5" y2="505"/>
<line x1="266.5" y1="501" x2="266.5" y2="505"/>
<line x1="282.5" y1="501" x2="282.5" y2="505"/>
<line x1="298.5" y1="501" x2="298.5" y2="505"/>
<line x1="313.5" y1="501" x2="313.5" y2="505"/>
<line x1="329.5" y1="501" x2="329.5" y2="505"/>
<line x1="345.5" y1="501" x2="345.5" y2="505"/>
<line x1="360.5" y1="501" x2="360.5" y2="505"/>
<line x1="376.5" y1="501" x2="376.5" y2="505"/>
<line x1="392.5" y1="501" x2="392.5" y2="505"/>
<line x1="407.5" y1="501" x2="407.5" y2="505"/>
<line x1="423.5" y1="501" x2="423.5" y2="505"/>
<line x1="439.5" y1="501" x2="439.5" y2="505"/>
<line x1="454.5" y1="501" x2="454.5" y2="505"/>
<line x1="470.5" y1="501" x2="470.5" y2="505"/>
<line x1="486.5" y1="501" x2="486.5" y2="505"/>
<line x1="501.5" y1="501" x2="501.5" y2="505"/>
<line x1="517.5" y1="501" x2="517.5" y2="505"/>
<line x1="533.5" y1="501" x2="533.5" y2="505"/>
<line x1="548.5" y1="501" x2="548.5" y2="505"/>
<line x1="564.5" y1="501" x2="564.5" y2="505"/>
<line x1="580.5" y1="501" x2="580.5" y2="505"/>
<line x1="595.5" y1="501" x2="595.5" y2="505"/>
<line x1="611.5" y1="501" x2="611.5" y2="505"/>
<line x1="627.5" y1="501" x2="627.5" y2="505"/>
<line x1="642.5" y1="501" x2="642.5" y2="505"/>
<line x1="658.5" y1="501" x2="658.5" y2="505"/>
</g>
<text transform="translate(188.50,519.0) scale(0.865,1)" fill="#000" text-anchor="middle">1</text>
<text transform="translate(204.50,519.0) scale(0.865,1)" fill="#000" text-anchor="middle">2</text>
<text transform="translate(219.50,519.0) scale(0.865,1)" fill="#000" text-anchor="middle">3</text>
<text transform="translate(235.50,519.0) scale(0.865,1)" fill="#000" text-anchor="middle">4</text>
<text transform="translate(251.50,519.0) scale(0.865,1)" fill="#000" text-anchor="middle">5</text>
<text transform="translate(266.50,519.0) scale(0.865,1)" fill="#000" text-anchor="middle">6</text>
<text transform="translate(282.50,519.0) scale(0.865,1)" fill="#000" text-anchor="middle">7</text>
<text transform="translate(298.50,519.0) scale(0.865,1)" fill="#000" text-anchor="middle">8</text>
<text transform="translate(313.50,519.0) scale(0.865,1)" fill="#000" text-anchor="middle">9</text>
<text transform="translate(329.50,519.0) scale(0.865,1)" fill="#000" text-anchor="middle">10</text>
<text transform="translate(345.50,519.0) scale(0.865,1)" fill="#000" text-anchor="middle">11</text>
<text transform="translate(360.50,519.0) scale(0.865,1)" fill="#000" text-anchor="middle">12</text>
<text transform="translate(376.50,519.0) scale(0.865,1)" fill="#000" text-anchor="middle">13</text>
<text transform="translate(392.50,519.0) scale(0.865,1)" fill="#000" text-anchor="middle">14</text>
<text transform="translate(407.50,519.0) scale(0.865,1)" fill="#000" text-anchor="middle">15</text>
<text transform="translate(423.50,519.0) scale(0.865,1)" fill="#000" text-anchor="middle">16</text>
<text transform="translate(439.50,519.0) scale(0.865,1)" fill="#000" text-anchor="middle">17</text>
<text transform="translate(454.50,519.0) scale(0.865,1)" fill="#000" text-anchor="middle">18</text>
<text transform="translate(470.50,519.0) scale(0.865,1)" fill="#000" text-anchor="middle">19</text>
<text transform="translate(486.50,519.0) scale(0.865,1)" fill="#000" text-anchor="middle">20</text>
<text transform="translate(501.50,519.0) scale(0.865,1)" fill="#000" text-anchor="middle">21</text>
<text transform="translate(517.50,519.0) scale(0.865,1)" fill="#000" text-anchor="middle">22</text>
<text transform="translate(533.50,519.0) scale(0.865,1)" fill="#000" text-anchor="middle">23</text>
<text transform="translate(548.50,519.0) scale(0.865,1)" fill="#000" text-anchor="middle">24</text>
<text transform="translate(564.50,519.0) scale(0.865,1)" fill="#000" text-anchor="middle">25</text>
<text transform="translate(580.50,519.0) scale(0.865,1)" fill="#000" text-anchor="middle">26</text>
<text transform="translate(595.50,519.0) scale(0.865,1)" fill="#000" text-anchor="middle">27</text>
<text transform="translate(611.50,519.0) scale(0.865,1)" fill="#000" text-anchor="middle">28</text>
<text transform="translate(627.50,519.0) scale(0.865,1)" fill="#000" text-anchor="middle">29</text>
<text transform="translate(642.50,519.0) scale(0.865,1)" fill="#000" text-anchor="middle">30</text>
<text transform="translate(658.50,519.0) scale(0.865,1)" fill="#000" text-anchor="middle">31</text>
<rect x="359" y="501" width="1" height="7" fill="#000" shape-rendering="crispEdges"/>
<circle cx="359.5" cy="525.5" r="4.7" fill="#000"/>
<path d="M357.2,522.3 Q355.6,525.5 357.2,528.7" fill="none" stroke="#fff" stroke-width="0.9"/>
<rect x="582" y="501" width="1" height="7" fill="#000" shape-rendering="crispEdges"/>
<circle cx="582.5" cy="525.5" r="4.9" fill="#fff" stroke="#000" stroke-width="1.3"/>
<rect x="1" y="539" width="843" height="76" fill="#c0c0c0"/>
<rect x="844" y="538" width="1" height="77" fill="#a09880"/>
<rect x="87" y="539" width="1" height="76" fill="#ffffff"/>
<rect x="88" y="539" width="1" height="76" fill="#a09880"/>
<rect x="204" y="539" width="1" height="76" fill="#ffffff"/>
<rect x="205" y="539" width="1" height="76" fill="#a09880"/>
<rect x="322" y="539" width="1" height="76" fill="#ffffff"/>
<rect x="323" y="539" width="1" height="76" fill="#a09880"/>
<rect x="440" y="539" width="1" height="76" fill="#ffffff"/>
<rect x="441" y="539" width="1" height="76" fill="#a09880"/>
<rect x="558" y="539" width="1" height="76" fill="#ffffff"/>
<rect x="559" y="539" width="1" height="76" fill="#a09880"/>
<rect x="676" y="539" width="1" height="76" fill="#ffffff"/>
<rect x="677" y="539" width="1" height="76" fill="#a09880"/>
<rect x="794" y="539" width="1" height="76" fill="#ffffff"/>
<rect x="795" y="539" width="1" height="76" fill="#a09880"/>
<text transform="translate(8.50,557.0) scale(0.935,1)" fill="#000" font-weight="bold">Sensor</text>
<text transform="translate(8.50,573.0) scale(0.935,1)" fill="#000" font-weight="bold">MinWert</text>
<text transform="translate(8.50,589.0) scale(0.935,1)" fill="#000" font-weight="bold">MaxWert</text>
<text transform="translate(8.50,605.0) scale(0.935,1)" fill="#000" font-weight="bold">Durchschnitt</text>
<text transform="translate(8.50,621.0) scale(0.935,1)" fill="#000" font-weight="bold">31.07.</text>
<text transform="translate(94.50,557.0) scale(0.935,1)" fill="#000" font-weight="bold">T- 2m</text>
<text transform="translate(198.50,557.0) scale(0.935,1)" fill="#000" font-weight="bold" text-anchor="end">°C</text>
<text transform="translate(94.50,573.0) scale(0.865,1)" fill="#000">25.07.  06:25</text>
<text transform="translate(198.50,573.0) scale(0.865,1)" fill="#000" text-anchor="end">10.5</text>
<text transform="translate(94.50,589.0) scale(0.865,1)" fill="#000">10.07.  16:00</text>
<text transform="translate(198.50,589.0) scale(0.865,1)" fill="#000" text-anchor="end">36.6</text>
<text transform="translate(99.50,605.0) scale(0.865,1)" fill="#000">(+ 3.05 )</text>
<text transform="translate(198.50,605.0) scale(0.865,1)" fill="#000" text-anchor="end">22.55</text>
<text transform="translate(198.50,621.0) scale(0.935,1)" fill="#000" font-weight="bold" text-anchor="end">19.8</text>
<text transform="translate(212.00,557.0) scale(0.935,1)" fill="#000" font-weight="bold">F- 2m</text>
<text transform="translate(317.00,557.0) scale(0.935,1)" fill="#000" font-weight="bold" text-anchor="end">%</text>
<text transform="translate(212.00,573.0) scale(0.865,1)" fill="#000">01.07.  17:05</text>
<text transform="translate(317.00,573.0) scale(0.865,1)" fill="#000" text-anchor="end">23</text>
<text transform="translate(212.00,589.0) scale(0.865,1)" fill="#000">29.07.  05:35</text>
<text transform="translate(317.00,589.0) scale(0.865,1)" fill="#000" text-anchor="end">98</text>
<text transform="translate(317.00,605.0) scale(0.865,1)" fill="#000" text-anchor="end">65</text>
<text transform="translate(215.00,621.0) scale(0.865,1)" fill="#000">11.29   l/m²</text>
<text transform="translate(317.00,621.0) scale(0.935,1)" fill="#000" font-weight="bold" text-anchor="end">65</text>
<text transform="translate(330.00,557.0) scale(0.935,1)" fill="#000" font-weight="bold">Luftdruck</text>
<text transform="translate(434.00,557.0) scale(0.935,1)" fill="#000" font-weight="bold" text-anchor="end">hPa</text>
<text transform="translate(330.00,573.0) scale(0.865,1)" fill="#000">14.07.  19:00</text>
<text transform="translate(434.00,573.0) scale(0.865,1)" fill="#000" text-anchor="end">1000.8</text>
<text transform="translate(330.00,589.0) scale(0.865,1)" fill="#000">18.07.  09:10</text>
<text transform="translate(434.00,589.0) scale(0.865,1)" fill="#000" text-anchor="end">1026.8</text>
<text transform="translate(434.00,605.0) scale(0.865,1)" fill="#000" text-anchor="end">1015.5</text>
<text transform="translate(434.00,621.0) scale(0.935,1)" fill="#000" font-weight="bold" text-anchor="end">1015.6</text>
<text transform="translate(448.00,557.0) scale(0.935,1)" fill="#000" font-weight="bold">Windböen</text>
<text transform="translate(552.30,557.0) scale(0.935,1)" fill="#000" font-weight="bold" text-anchor="end">km/h</text>
<text transform="translate(448.00,573.0) scale(0.865,1)" fill="#000">01.07.  00:05</text>
<text transform="translate(552.30,573.0) scale(0.865,1)" fill="#000" text-anchor="end">0.0</text>
<text transform="translate(448.00,589.0) scale(0.865,1)" fill="#000">14.07.  19:55</text>
<text transform="translate(552.30,589.0) scale(0.865,1)" fill="#000" text-anchor="end">SO 51.5</text>
<text transform="translate(552.30,605.0) scale(0.865,1)" fill="#000" text-anchor="end">7.0</text>
<text transform="translate(452.00,621.0) scale(0.865,1)" fill="#000">2 Bft S</text>
<text transform="translate(552.30,621.0) scale(0.935,1)" fill="#000" font-weight="bold" text-anchor="end">6.3</text>
<text transform="translate(566.50,557.0) scale(0.935,1)" fill="#000" font-weight="bold">Regen</text>
<text transform="translate(671.00,557.0) scale(0.935,1)" fill="#000" font-weight="bold" text-anchor="end">l/m²</text>
<text transform="translate(566.50,573.0) scale(0.865,1)" fill="#000">Regentage: 23</text>
<text transform="translate(566.50,589.0) scale(0.865,1)" fill="#000">26.07.  16:10</text>
<text transform="translate(671.00,589.0) scale(0.865,1)" fill="#000" text-anchor="end">9.6</text>
<text transform="translate(566.50,605.0) scale(0.865,1)" fill="#000">Gesamt:</text>
<text transform="translate(671.00,605.0) scale(0.865,1)" fill="#000" text-anchor="end">38.6</text>
<text transform="translate(568.00,621.0) scale(0.865,1)" fill="#000">-20.6 l/m²</text>
<text transform="translate(671.00,621.0) scale(0.935,1)" fill="#000" font-weight="bold" text-anchor="end">0.0</text>
<text transform="translate(684.30,557.0) scale(0.935,1)" fill="#000" font-weight="bold">PMV+2:21</text>
<text transform="translate(684.30,573.0) scale(0.865,1)" fill="#000">WC 19.8 °C</text>
<text transform="translate(684.30,589.0) scale(0.865,1)" fill="#000">TP 12.1 °C</text>
</svg></body></html>
